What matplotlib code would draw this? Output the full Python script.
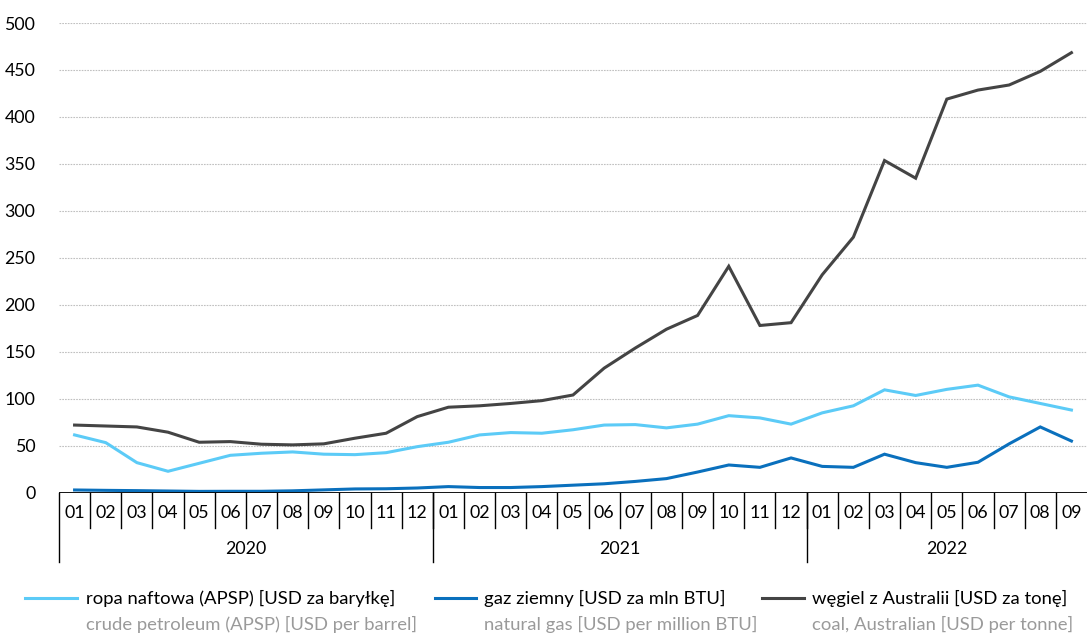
import matplotlib.pyplot as plt
from matplotlib.lines import Line2D
from matplotlib.transforms import blended_transform_factory

plt.rcParams['font.family'] = ['Lato', 'DejaVu Sans']

# monthly prices, 2020-01 .. 2022-09
years = ['2020', '2021', '2022']
months = ['01', '02', '03', '04', '05', '06', '07', '08', '09', '10', '11', '12'] * 2 + \
         ['01', '02', '03', '04', '05', '06', '07', '08', '09']

oil = [61.5, 53.3, 32, 22.8, 31.3, 39.8, 42, 43.4, 41, 40.5, 42.6, 49,
       53.7, 61.5, 64, 63.3, 67, 72, 72.5, 69, 73, 82, 79.6, 73,
       85, 92.5, 109.5, 103.5, 110, 114.5, 102, 95, 88]
gas = [2.9, 2.5, 2.2, 1.8, 1.4, 1.5, 1.5, 2, 3, 4, 4.2, 5,
       6.5, 5.5, 5.5, 6.5, 8, 9.5, 12, 15, 22, 29.5, 27, 37,
       28, 27, 41, 32, 27, 32.4, 52, 70, 55]
coal = [72, 71, 70, 64.4, 53.7, 54.4, 51.6, 50.9, 52, 58, 63.3, 81,
        91, 92.5, 95, 98, 104, 132.6, 154, 174, 188.7, 241, 178, 181,
        232, 272, 353.6, 334.8, 419, 428.6, 434, 448.5, 468.4]

labels_pl = ['ropa naftowa (APSP) [USD za baryłkę]',
             'gaz ziemny [USD za mln BTU]',
             'węgiel z Australii [USD za tonę]']
labels_en = ['crude petroleum (APSP) [USD per barrel]',
             'natural gas [USD per million BTU]',
             'coal, Australian [USD per tonne]']
colors = ['#5ccbf7', '#0a70bd', '#444444']

W, H = 1087, 636
fig = plt.figure(figsize=(W / 100, H / 100), dpi=100)
ax = fig.add_axes([59 / W, (H - 492.7) / H, 1 - 59 / W, 469.7 / H])

x = list(range(len(months)))
for series, c in zip([oil, gas, coal], colors):
    ax.plot(x, series, color=c, lw=2.2, solid_joinstyle='miter', zorder=3)

ax.set_xlim(-0.5, len(months) - 0.5)
ax.set_ylim(0, 500)
ax.set_yticks(range(0, 501, 50))
ax.tick_params(axis='y', length=0, pad=17, labelsize=12.8)
ax.set_xticks([])
for s in ax.spines.values():
    s.set_visible(False)
ax.yaxis.grid(True, color='#c0c0c0', lw=0.8, ls=(0, (1.5, 1)))
ax.set_axisbelow(True)
ax.axhline(0, color='black', lw=1.3, zorder=4)

# two-level category axis: months, then years
tr = blended_transform_factory(ax.transData, ax.transAxes)
px = 1 / 469.7
for i, m in enumerate(months):
    ax.text(i, -20 * px, m, transform=tr, ha='center', va='center', fontsize=12.8)
for i in range(1, len(months)):
    ax.plot([i - 0.5, i - 0.5], [0, -35 * px], transform=tr, color='black',
            lw=1.0, clip_on=False)
for b in [0, 12, 24]:
    ax.plot([b - 0.5, b - 0.5], [0, -69 * px], transform=tr, color='black',
            lw=1.0, clip_on=False)
for k, yr in enumerate(years):
    n = min(12, len(months) - 12 * k)
    ax.text(12 * k + (n - 1) / 2, -56 * px, yr, transform=tr, ha='center',
            va='center', fontsize=12.8)

# legend below the chart
leg_x = [(25, 77, 86), (435, 476, 484), (762, 804, 812)]
for (x0, x1, tx), c, pl, en in zip(leg_x, colors, labels_pl, labels_en):
    fig.add_artist(Line2D([x0 / W, x1 / W], [1 - 598 / H, 1 - 598 / H],
                          color=c, lw=2.2))
    fig.text(tx / W, 1 - 598 / H, pl, ha='left', va='center', fontsize=13.3)
    fig.text(tx / W, 1 - 624 / H, en, ha='left', va='center', fontsize=13.3,
             color='#9a9a9a')

fig.savefig('out.png', dpi=100)
